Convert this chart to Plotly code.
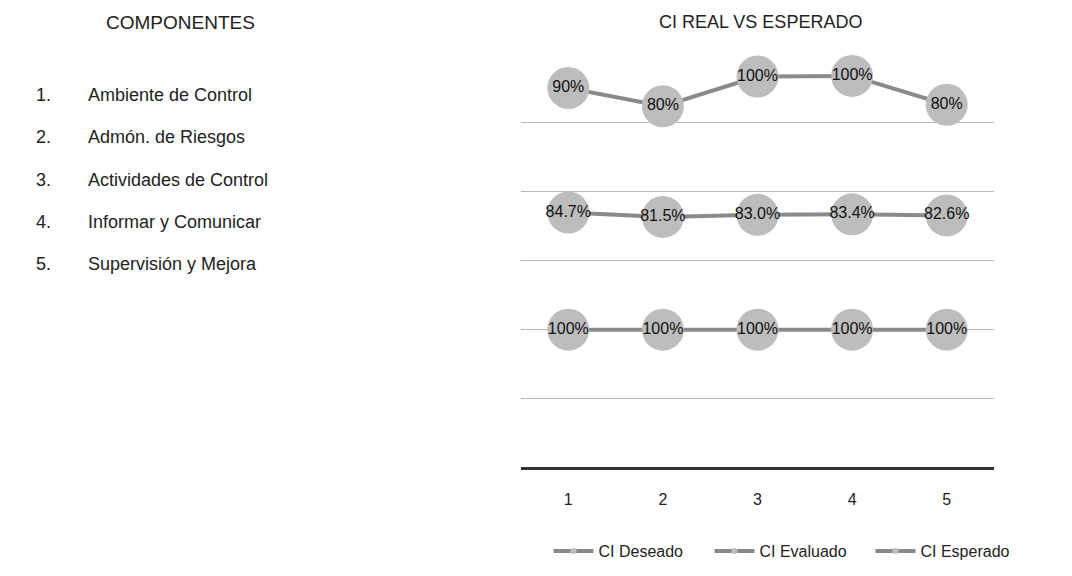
import numpy as np
import plotly.graph_objects as go

categories = [1, 2, 3, 4, 5]
tick_labels = ["1", "2", "3", "4", "5"]
ci_deseado = [1.00, 1.00, 1.00, 1.00, 1.00]
ci_evaluado = [0.847, 0.815, 0.830, 0.834, 0.826]
ci_esperado = [0.90, 0.80, 1.00, 1.00, 0.80]
series_names = ["CI Deseado", "CI Evaluado", "CI Esperado"]
components = ["Ambiente de Control", "Admón. de Riesgos", "Actividades de Control",
              "Informar y Comunicar", "Supervisión y Mejora"]

W, H = 1072, 576
OFF = 8  # page body margin
FONT = "Liberation Sans, Arial, sans-serif"
LINE_C = "#8a8a8a"
MARK_C = "#bdbdbd"


def px(x):
    return (x - OFF) / W


def py(y):
    return 1 - (y - OFF) / H


series = [ci_deseado, ci_evaluado, ci_esperado]
fmts = ["{:.0%}", "{:.1%}", "{:.0%}"]
cum = np.cumsum(np.array(series), axis=0)

fig = go.Figure()
for i, (vals, fmt) in enumerate(zip(series, fmts)):
    fig.add_trace(go.Scatter(
        x=categories, y=cum[i], mode="lines+markers+text",
        line=dict(color=LINE_C, width=4),
        marker=dict(size=42, color=MARK_C),
        text=[fmt.format(v) for v in vals],
        textposition="middle center",
        textfont=dict(family=FONT, size=16, color="#111"),
        showlegend=False, hoverinfo="skip",
    ))
for name in series_names:
    fig.add_trace(go.Scatter(x=[None], y=[None], mode="lines+markers", name=name,
                             line=dict(color=LINE_C, width=4),
                             marker=dict(size=6, color=MARK_C)))

x0, x1 = 521, 994
y0, y1 = 468, 53
fig.update_layout(
    width=W, height=H,
    margin=dict(l=0, r=0, t=0, b=0),
    paper_bgcolor="white", plot_bgcolor="white",
    font=dict(family=FONT, color="#222"),
    xaxis=dict(domain=[px(x0), px(x1)], range=[0.5, 5.5], tickvals=categories,
               ticktext=tick_labels, showgrid=False, zeroline=False, ticks="",
               tickfont=dict(size=16, color="#222"), ticklabelstandoff=20,
               showline=False),
    yaxis=dict(domain=[py(y0), py(y1)], range=[0, 3.0], dtick=0.5,
               showticklabels=False, gridcolor="#b8b8b8", gridwidth=1,
               zeroline=True, zerolinecolor="#333", zerolinewidth=2.5),
    legend=dict(orientation="h", x=px(790), xanchor="center", y=py(551),
                yanchor="middle", font=dict(size=16, color="#222"),
                itemwidth=40, entrywidth=106, entrywidthmode="pixels"),
)

anns = [dict(text="CI REAL VS ESPERADO", x=760, y=22, size=18),
        dict(text="COMPONENTES", x=180, y=22, size=19)]
for a in anns:
    fig.add_annotation(text=a["text"], x=px(a["x"]), y=py(a["y"]), xref="paper", yref="paper",
                       showarrow=False, xanchor="center", yanchor="middle",
                       font=dict(family=FONT, size=a["size"], color="#222"))
for k, comp in enumerate(components):
    yy = py(95 + 42.3 * k)
    fig.add_annotation(text=f"{k + 1}.", x=px(34), y=yy, xref="paper", yref="paper",
                       showarrow=False, xanchor="left", yanchor="middle",
                       font=dict(family=FONT, size=18, color="#222"))
    fig.add_annotation(text=comp, x=px(86), y=yy, xref="paper", yref="paper",
                       showarrow=False, xanchor="left", yanchor="middle",
                       font=dict(family=FONT, size=18, color="#222"))

fig.write_html("out.html")
